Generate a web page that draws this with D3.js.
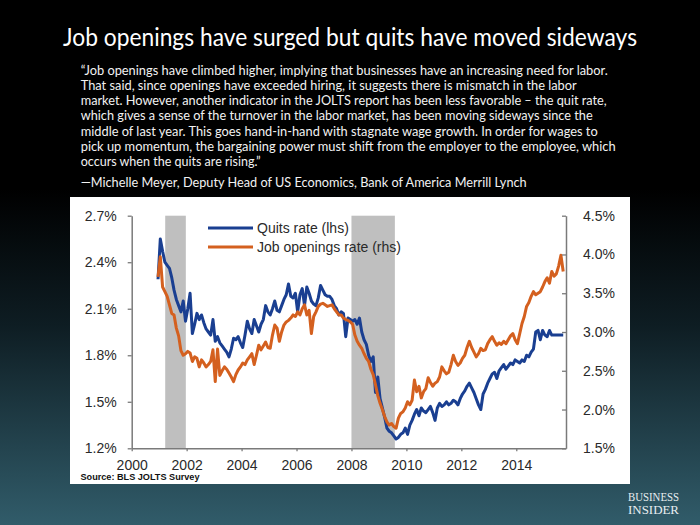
<!DOCTYPE html>
<html><head><meta charset="utf-8">
<script src="https://cdn.jsdelivr.net/npm/d3@7"></script>
<style>html,body{margin:0;padding:0;background:#000;} svg{display:block;}</style>
</head><body>
<svg id="c" width="700" height="525"></svg>
<script>
// Monthly data, Dec 2000 onward
const quitsRate = [
2.29,2.55,2.47,2.40,2.38,2.36,2.30,2.22,2.16,2.12,2.08,2.15,
2.02,2.10,2.20,1.94,2.00,2.07,2.03,2.06,2.01,1.97,1.95,1.93,
2.03,1.89,1.92,1.88,1.86,1.84,1.82,1.79,1.84,1.91,1.90,1.92,
1.88,1.85,1.93,2.02,1.97,1.94,2.03,1.99,1.95,2.00,2.03,2.12,
2.08,2.06,2.10,2.15,2.09,2.08,2.12,2.16,2.19,2.26,2.18,2.17,
2.20,2.08,2.19,2.23,2.12,2.24,2.20,2.15,2.13,2.12,2.17,2.25,
2.22,2.19,2.18,2.18,2.16,2.12,2.10,2.06,2.08,2.07,1.92,2.04,
2.03,2.02,2.03,2.00,2.04,1.95,1.90,1.87,1.80,1.76,1.79,1.56,
1.66,1.52,1.46,1.40,1.33,1.31,1.30,1.28,1.26,1.27,1.29,1.30,
1.33,1.29,1.35,1.38,1.42,1.45,1.41,1.46,1.44,1.43,1.45,1.47,
1.43,1.38,1.46,1.49,1.47,1.48,1.50,1.48,1.49,1.51,1.50,1.48,
1.52,1.55,1.57,1.60,1.62,1.59,1.56,1.52,1.48,1.45,1.55,1.58,
1.62,1.65,1.68,1.69,1.65,1.70,1.72,1.74,1.71,1.73,1.75,1.74,
1.77,1.76,1.75,1.77,1.76,1.80,1.79,1.82,1.84,1.95,1.96,1.90,
1.96,1.93,1.92,1.96,1.93,1.93,1.93,1.93,1.93,1.93];
const jobOpeningsRate = [
3.71,3.97,3.58,3.52,3.46,3.35,3.24,3.22,3.05,2.95,2.76,2.70,
2.72,2.75,2.73,2.62,2.68,2.66,2.55,2.64,2.60,2.55,2.58,2.62,
2.77,2.36,2.78,2.44,2.50,2.55,2.52,2.47,2.42,2.36,2.45,2.51,
2.55,2.60,2.58,2.64,2.68,2.72,2.58,2.70,2.83,2.77,2.82,2.87,
2.80,2.79,2.96,3.09,3.05,2.88,3.00,3.09,3.13,3.15,3.18,3.22,
3.20,3.26,3.22,3.30,3.35,3.22,3.28,2.98,3.20,3.26,3.33,3.36,
3.37,3.35,3.33,3.34,3.35,3.30,3.26,3.22,3.22,3.18,3.16,3.15,
3.13,3.10,2.96,2.88,2.83,2.79,2.72,2.66,2.62,2.52,2.45,2.32,
2.18,2.08,2.00,1.91,1.84,1.80,1.82,1.78,1.76,1.89,1.95,1.97,
2.02,2.10,2.06,2.12,2.38,2.23,2.30,2.15,2.23,2.27,2.41,2.35,
2.30,2.34,2.36,2.42,2.55,2.50,2.46,2.48,2.58,2.70,2.62,2.57,
2.60,2.66,2.70,2.80,2.88,2.80,2.74,2.68,2.72,2.79,2.76,2.77,
2.85,2.90,2.94,2.88,2.83,2.86,2.84,2.88,2.85,2.90,2.95,2.98,
2.90,2.85,2.98,3.11,3.20,3.33,3.38,3.46,3.52,3.48,3.50,3.52,
3.58,3.65,3.70,3.63,3.78,3.72,3.75,3.85,3.99,3.78];
const firstMonth = {year: 2000, month: 12};
const leftTicks = [1.2, 1.5, 1.8, 2.1, 2.4, 2.7];
const rightTicks = [1.5, 2.0, 2.5, 3.0, 3.5, 4.0, 4.5];
const yearTicks = [2000, 2002, 2004, 2006, 2008, 2010, 2012, 2014];
const recessions = [[2001.22, 2001.97], [2008.0, 2009.58]];
const seriesNames = ["Quits rate (lhs)", "Job openings rate (rhs)"];
const titleText = "Job openings have surged but quits have moved sideways";
const quoteLines = [
  "\u201CJob openings have climbed higher, implying that businesses have an increasing need for labor.",
  "That said, since openings have exceeded hiring, it suggests there is mismatch in the labor",
  "market. However, another indicator in the JOLTS report has been less favorable \u2013 the quit rate,",
  "which gives a sense of the turnover in the labor market, has been moving sideways since the",
  "middle of last year. This goes hand-in-hand with stagnate wage growth. In order for wages to",
  "pick up momentum, the bargaining power must shift from the employer to the employee, which",
  "occurs when the quits are rising.\u201D"
];
const quoteWidths = [527, 496, 526, 512, 517, 535, 180];
const attribution = "\u2014Michelle Meyer, Deputy Head of US Economics, Bank of America Merrill Lynch";
const sourceText = "Source: BLS JOLTS Survey";
const logoLines = ["BUSINESS", "INSIDER"];

const svg = d3.select("#c");
const defs = svg.append("defs");
const grad = defs.append("linearGradient").attr("id","bg").attr("x1",0).attr("y1",0).attr("x2",0).attr("y2",1);
grad.append("stop").attr("offset","0%").attr("stop-color","#000");
grad.append("stop").attr("offset","36%").attr("stop-color","#000");
grad.append("stop").attr("offset","62%").attr("stop-color","#0e1d23");
grad.append("stop").attr("offset","100%").attr("stop-color","#315c6a");
svg.append("rect").attr("width",700).attr("height",525).attr("fill","url(#bg)");

// Title
svg.append("text").attr("x",350).attr("y",46).attr("text-anchor","middle")
  .attr("font-family","Lato, 'Open Sans', sans-serif").attr("font-size",25).attr("fill","#fff")
  .attr("textLength",574).attr("lengthAdjust","spacingAndGlyphs").text(titleText);

// Quote
quoteLines.forEach((t,k)=>{
  svg.append("text").attr("x",80.7).attr("y",74.5+15.3*k)
    .attr("font-family","Lato, 'Open Sans', sans-serif").attr("font-size",13).attr("fill","#f2f2f2")
    .attr("textLength",quoteWidths[k]).attr("lengthAdjust","spacingAndGlyphs").text(t);
});
svg.append("text").attr("x",80.7).attr("y",186.5)
  .attr("font-family","Lato, 'Open Sans', sans-serif").attr("font-size",13).attr("fill","#f2f2f2")
  .attr("textLength",446).attr("lengthAdjust","spacingAndGlyphs").text(attribution);

// Panel
svg.append("rect").attr("x",70).attr("y",197).attr("width",560).attr("height",287).attr("fill","#fff");

const months = quitsRate.map((_,i)=> firstMonth.year + (firstMonth.month - 0.5 + i)/12);
const x = d3.scaleLinear().domain([2000, 2015.81]).range([131.7, 566]);
const yL = d3.scaleLinear().domain([1.2, 2.7]).range([448.3, 215.7]);
const yR = d3.scaleLinear().domain([1.5, 4.5]).range([448.3, 215.7]);

// Recession bars
svg.append("g").selectAll("rect").data(recessions).join("rect")
  .attr("x", d=>x(d[0])).attr("width", d=>x(d[1])-x(d[0]))
  .attr("y", yL(2.7)).attr("height", yL(1.2)-yL(2.7)).attr("fill","#bfbfbf");

// Lines
const lineL = d3.line().x((d,i)=>x(months[i])).y(d=>yL(d));
const lineR = d3.line().x((d,i)=>x(months[i])).y(d=>yR(d));
svg.append("path").datum(quitsRate).attr("d",lineL).attr("fill","none")
  .attr("stroke","#1a3f91").attr("stroke-width",3).attr("stroke-linejoin","round");
svg.append("path").datum(jobOpeningsRate).attr("d",lineR).attr("fill","none")
  .attr("stroke","#d4601f").attr("stroke-width",3).attr("stroke-linejoin","round");

// Axes
const axisFont = "'Liberation Sans', Arial, sans-serif";
function styleAxis(g){
  g.selectAll(".domain").attr("stroke","#7a7a7a").attr("stroke-width",1.5);
  g.selectAll(".tick line").attr("stroke","#7a7a7a").attr("stroke-width",1.3);
  g.selectAll(".tick text").attr("fill","#2a2a2a").attr("font-family",axisFont).attr("font-size",14);
}
const gL = svg.append("g").attr("transform","translate(131.7,0)")
  .call(d3.axisLeft(yL).tickValues(leftTicks).tickFormat(d=>d.toFixed(1)+"%").tickSizeInner(4).tickSizeOuter(0).tickPadding(11));
styleAxis(gL);
const gR = svg.append("g").attr("transform","translate(566,0)")
  .call(d3.axisRight(yR).tickValues(rightTicks).tickFormat(d=>d.toFixed(1)+"%").tickSizeInner(-4).tickSizeOuter(0).tickPadding(17));
styleAxis(gR);
const gB = svg.append("g").attr("transform","translate(0,448.3)")
  .call(d3.axisBottom(x).tickValues(yearTicks).tickFormat(d=>String(d)).tickSizeInner(3).tickSizeOuter(0).tickPadding(8.5));
styleAxis(gB);

// Legend
const legendColors = ["#1a3f91","#d4601f"];
seriesNames.forEach((n,k)=>{
  const ly = 228 + 19*k;
  svg.append("line").attr("x1",208).attr("x2",253).attr("y1",ly).attr("y2",ly)
    .attr("stroke",legendColors[k]).attr("stroke-width",3);
  svg.append("text").attr("x",257).attr("y",ly).attr("dy","0.35em")
    .attr("font-family",axisFont).attr("font-size",14).attr("fill","#2a2a2a").text(n);
});

// Source
svg.append("text").attr("x",80.5).attr("y",480).attr("font-family",axisFont)
  .attr("font-weight","bold").attr("font-size",9).attr("fill","#111")
  .attr("textLength",119).attr("lengthAdjust","spacingAndGlyphs").text(sourceText);

// Logo
logoLines.forEach((t,k)=>{
  svg.append("text").attr("x",628).attr("y",501+13*k)
    .attr("font-family","'Liberation Serif', 'DejaVu Serif', serif").attr("font-size",11.5)
    .attr("fill","#e8eef0").attr("textLength",51).attr("lengthAdjust","spacingAndGlyphs").text(t);
});
</script>
</body></html>
